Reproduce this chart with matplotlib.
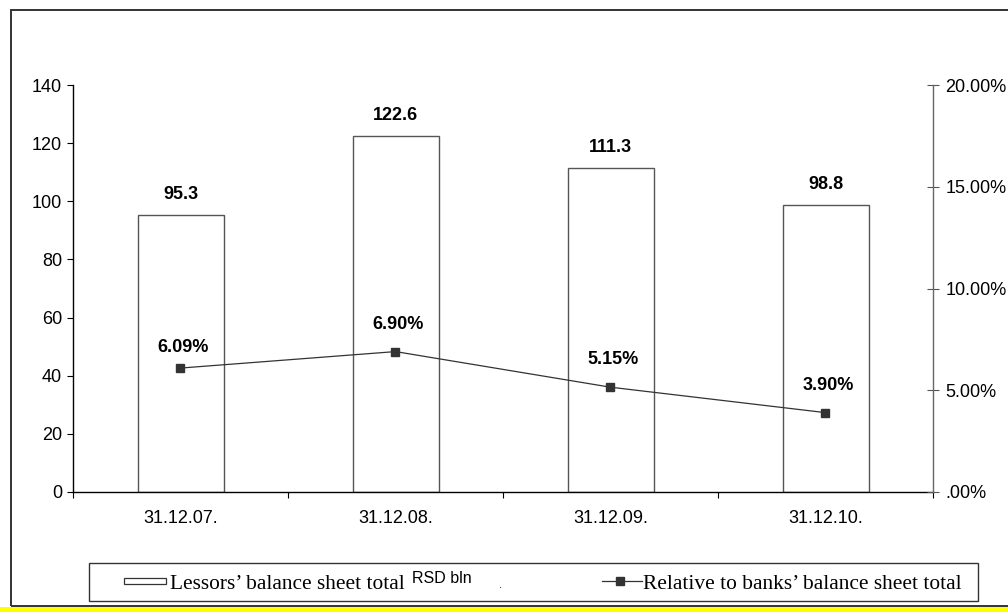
import matplotlib
matplotlib.use("Agg")
import matplotlib.pyplot as plt
from matplotlib.patches import Rectangle
from matplotlib.lines import Line2D
from matplotlib.ticker import FixedLocator, FuncFormatter

# lessors' balance sheet total (RSD bln) and its share of banks' total
dates = ["31.12.07.", "31.12.08.", "31.12.09.", "31.12.10."]
balance_total = [95.3, 122.6, 111.3, 98.8]
share_of_banks = [0.0609, 0.0690, 0.0515, 0.0390]

W, H = 1008, 612
plt.rcParams["font.family"] = ["Liberation Sans", "DejaVu Sans"]


def px(x, y):
    # pixel position -> figure fraction (origin top-left)
    return x / W, 1 - y / H


fig = plt.figure(figsize=(W / 100, H / 100), dpi=100)
fig.patch.set_facecolor("white")

left, top = px(73, 85)
right, bottom = px(933, 492)
ax = fig.add_axes([left, bottom, right - left, top - bottom])
ax2 = ax.twinx()

xs = list(range(len(dates)))
ax.bar(xs, balance_total, width=0.4, color="white", edgecolor="#555555",
       linewidth=1.0, zorder=2)
for x, v in zip(xs, balance_total):
    ax.annotate(f"{v:.1f}", (x, v), xytext=(0, 11.5), textcoords="offset points",
                ha="center", va="baseline", fontsize=13, fontweight="bold")

ax.set_xlim(-0.5, len(dates) - 0.5)
ax.set_ylim(0, 140)
ax.set_yticks(range(0, 141, 20))
ax.tick_params(axis="y", direction="out", length=4, width=0.8, pad=4,
               labelsize=13, color="black")
ax.set_xticks(xs)
ax.set_xticklabels(dates)
ax.tick_params(axis="x", which="major", length=0, pad=13, labelsize=13)
ax.xaxis.set_minor_locator(FixedLocator([i - 0.5 for i in range(len(dates) + 1)]))
ax.tick_params(axis="x", which="minor", direction="out", length=4, width=0.8)

for side in ("top", "right"):
    ax.spines[side].set_visible(False)
ax.spines["left"].set_linewidth(1.0)
ax.spines["bottom"].set_linewidth(1.0)

ax2.plot(xs, share_of_banks, color="#333333", linewidth=0.9, marker="s",
         markersize=6, markerfacecolor="#333333", markeredgecolor="#333333",
         zorder=3)
pct_offsets = [11.5, 16.5, 16.5, 16]
for x, v, off in zip(xs, share_of_banks, pct_offsets):
    ax2.annotate(f"{v * 100:.2f}%", (x, v), xytext=(2, off),
                 textcoords="offset points", ha="center", va="baseline",
                 fontsize=13, fontweight="bold")

ax2.set_ylim(0, 0.20)
ax2.set_yticks([0, 0.05, 0.10, 0.15, 0.20])
ax2.yaxis.set_major_formatter(
    FuncFormatter(lambda v, _: f"{v * 100:.2f}%".lstrip("0") if v == 0 else f"{v * 100:.2f}%"))
ax2.tick_params(axis="y", direction="inout", length=8, width=0.8, pad=5,
                labelsize=13, color="#555555")
for side in ("top", "left", "bottom"):
    ax2.spines[side].set_visible(False)
ax2.spines["right"].set_color("#666666")
ax2.spines["right"].set_linewidth(1.0)

# outer frame and strip along the bottom edge
x0, y0 = px(11, 606)
x1, y1 = px(1015, 10)
fig.patches.append(Rectangle((x0, y0), x1 - x0, y1 - y0, transform=fig.transFigure,
                             fill=False, edgecolor="#333333", linewidth=1.4))
sx, sy = px(0, 612)
fig.patches.append(Rectangle((sx, sy), 1, 5 / H, transform=fig.transFigure,
                             facecolor="#FFFF00", edgecolor="none"))

# legend box drawn by hand
lx0, ly0 = px(89, 601)
lx1, ly1 = px(978, 563)
fig.patches.append(Rectangle((lx0, ly0), lx1 - lx0, ly1 - ly0, transform=fig.transFigure,
                             fill=False, edgecolor="#333333", linewidth=1.0))
hx0, hy0 = px(124, 584)
hx1, hy1 = px(166, 578)
fig.patches.append(Rectangle((hx0, hy0), hx1 - hx0, hy1 - hy0, transform=fig.transFigure,
                             facecolor="white", edgecolor="#333333", linewidth=0.9))
fig.text(*px(170, 589), "Lessors\u2019 balance sheet total", family="Liberation Serif",
         fontsize=15.4, va="baseline", ha="left")
fig.text(*px(412, 583), "RSD bln", fontsize=11.5, va="baseline", ha="left")
fig.text(*px(499, 588), ".", fontsize=8, va="baseline", ha="left")

ly = px(0, 581)[1]
fig.lines.append(Line2D([602 / W, 642 / W], [ly, ly], transform=fig.transFigure,
                        color="#333333", linewidth=0.9))
fig.lines.append(Line2D([620 / W], [ly], transform=fig.transFigure, marker="s",
                        markersize=6, color="#333333"))
fig.text(*px(643, 589), "Relative to banks\u2019 balance sheet total",
         family="Liberation Serif", fontsize=15.4, va="baseline", ha="left")

fig.savefig("out.png", dpi=100)
